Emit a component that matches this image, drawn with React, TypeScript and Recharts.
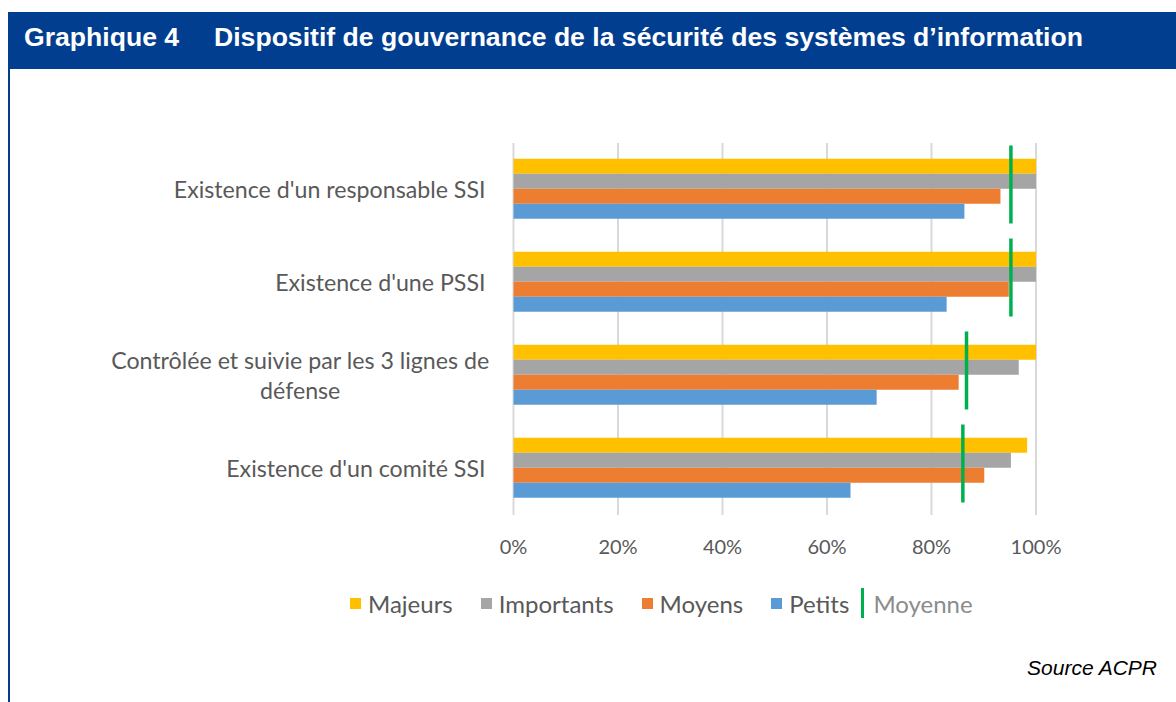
import React from "react";
import {
  ComposedChart,
  Bar,
  Scatter,
  XAxis,
  YAxis,
  CartesianGrid,
  Legend,
} from "recharts";

// values, in %
const categories = [
  "Existence d'un responsable SSI",
  "Existence d'une PSSI",
  "Contrôlée et suivie par les 3 lignes de\ndéfense",
  "Existence d'un comité SSI",
];
const majeurs = [100, 100, 100, 98.3];
const importants = [100, 100, 96.7, 95.2];
const moyens = [93.2, 94.8, 85.2, 90.1];
const petits = [86.3, 82.9, 69.5, 64.5];
const moyenne = [95.2, 95.2, 86.7, 86.0];
const xTicks = [0, 20, 40, 60, 80, 100];

const series = [
  { key: "majeurs", name: "Majeurs", color: "#FFC000" },
  { key: "importants", name: "Importants", color: "#A5A5A5" },
  { key: "moyens", name: "Moyens", color: "#ED7D31" },
  { key: "petits", name: "Petits", color: "#5B9BD5" },
];

const data = categories.map((name, i) => ({
  name,
  majeurs: majeurs[i],
  importants: importants[i],
  moyens: moyens[i],
  petits: petits[i],
  moyenne: moyenne[i],
}));

const BLUE = "#023e8f";
const GREEN = "#00B050";
const GREY_TEXT = "#595959";
const FONT = "Lato, 'Open Sans', sans-serif";
const LABEL_SIZE = 23.2;

let ctx: CanvasRenderingContext2D | null = null;
const textWidth = (s: string, font: string) => {
  if (!ctx) ctx = document.createElement("canvas").getContext("2d");
  if (!ctx) return s.length * 10;
  ctx.font = font;
  return ctx.measureText(s).width;
};

const CategoryTick = ({ x, y, payload }: any) => {
  const lines = String(payload.value).split("\n");
  const style = { fill: GREY_TEXT, fontFamily: FONT, fontSize: LABEL_SIZE };
  if (lines.length === 1) {
    return (
      <text x={x} y={y} dy="0.36em" textAnchor="end" {...style}>
        {lines[0]}
      </text>
    );
  }
  // wrapped label: lines centred in a block that is right aligned
  const widest = Math.max(
    ...lines.map((l) => textWidth(l, `${LABEL_SIZE}px Lato`))
  );
  const mid = x + 4 - widest / 2;
  const lineH = 30;
  return (
    <text textAnchor="middle" {...style}>
      {lines.map((l, i) => (
        <tspan
          key={i}
          x={mid}
          y={y + (i - (lines.length - 1) / 2) * lineH}
          dy="0.36em"
        >
          {l}
        </tspan>
      ))}
    </text>
  );
};

const MoyenneMark = ({ cx, cy }: any) => (
  <line
    x1={cx}
    x2={cx}
    y1={cy - 44}
    y2={cy + 34}
    stroke={GREEN}
    strokeWidth={3.5}
  />
);

const renderLegend = () => (
  <div
    style={{
      display: "flex",
      alignItems: "center",
      height: 30,
      boxSizing: "border-box",
      paddingLeft: 350,
      fontFamily: FONT,
      fontSize: 24,
      color: GREY_TEXT,
    }}
  >
    {series.map((s, i) => (
      <div
        key={s.key}
        style={{
          display: "flex",
          alignItems: "center",
          marginRight: i === series.length - 1 ? 12 : 28,
        }}
      >
        <span
          style={{
            display: "inline-block",
            width: 11,
            height: 11,
            background: s.color,
            marginRight: 7,
          }}
        />
        <span>{s.name}</span>
      </div>
    ))}
    <div style={{ display: "flex", alignItems: "center" }}>
      <span
        style={{
          display: "inline-block",
          width: 3,
          height: 30,
          background: GREEN,
          marginRight: 9,
        }}
      />
      <span style={{ color: "#8c8c8c" }}>Moyenne</span>
    </div>
  </div>
);

const App = () => {
  return (
    <div
      style={{
        position: "fixed",
        left: 0,
        top: 0,
        width: 1176,
        height: 702,
        overflow: "hidden",
        background: "#fff",
      }}
    >
      <div
        style={{
          position: "absolute",
          left: 8,
          top: 12,
          width: 1168,
          height: 57,
          background: BLUE,
          color: "#fff",
          fontFamily: "'Liberation Sans', Arial, sans-serif",
          fontWeight: "bold",
          fontSize: 26.6,
          lineHeight: "29px",
        }}
      >
        <span style={{ position: "absolute", left: 16, top: 11 }}>
          Graphique 4
        </span>
        <span style={{ position: "absolute", left: 206, top: 11 }}>
          Dispositif de gouvernance de la sécurité des systèmes d’information
        </span>
      </div>
      <div
        style={{
          position: "absolute",
          left: 8,
          top: 69,
          width: 2,
          height: 633,
          background: BLUE,
        }}
      />
      <div style={{ position: "absolute", left: 0, top: 0 }}>
        <ComposedChart
          width={1176}
          height={702}
          data={data}
          layout="vertical"
          margin={{ top: 143, right: 140, bottom: 157, left: 0 }}
          barCategoryGap="17%"
          barGap={0}
        >
          <CartesianGrid
            horizontal={false}
            stroke="#d9d9d9"
            strokeWidth={2}
          />
          <XAxis
            type="number"
            domain={[0, 100]}
            ticks={xTicks}
            interval={0}
            tickFormatter={(v: number) => `${v}%`}
            axisLine={false}
            tickLine={false}
            tickSize={0}
            tickMargin={25}
            tick={{ fill: GREY_TEXT, fontSize: 20, fontFamily: FONT }}
          />
          <YAxis
            type="category"
            dataKey="name"
            width={513.5}
            interval={0}
            axisLine={false}
            tickLine={false}
            tickSize={0}
            tickMargin={28}
            tick={<CategoryTick />}
          />
          {series.map((s) => (
            <Bar
              key={s.key}
              dataKey={s.key}
              name={s.name}
              fill={s.color}
              isAnimationActive={false}
            />
          ))}
          <Scatter
            dataKey="moyenne"
            name="Moyenne"
            shape={<MoyenneMark />}
            isAnimationActive={false}
          />
          <Legend
            verticalAlign="middle"
            wrapperStyle={{ top: 588, left: 0, width: 1176 }}
            content={renderLegend}
          />
        </ComposedChart>
      </div>
      <div
        style={{
          position: "absolute",
          right: 19,
          top: 656,
          fontFamily: "'Liberation Sans', Arial, sans-serif",
          fontStyle: "italic",
          fontSize: 21,
          lineHeight: "24px",
          color: "#000",
        }}
      >
        Source ACPR
      </div>
    </div>
  );
};

export default App;
